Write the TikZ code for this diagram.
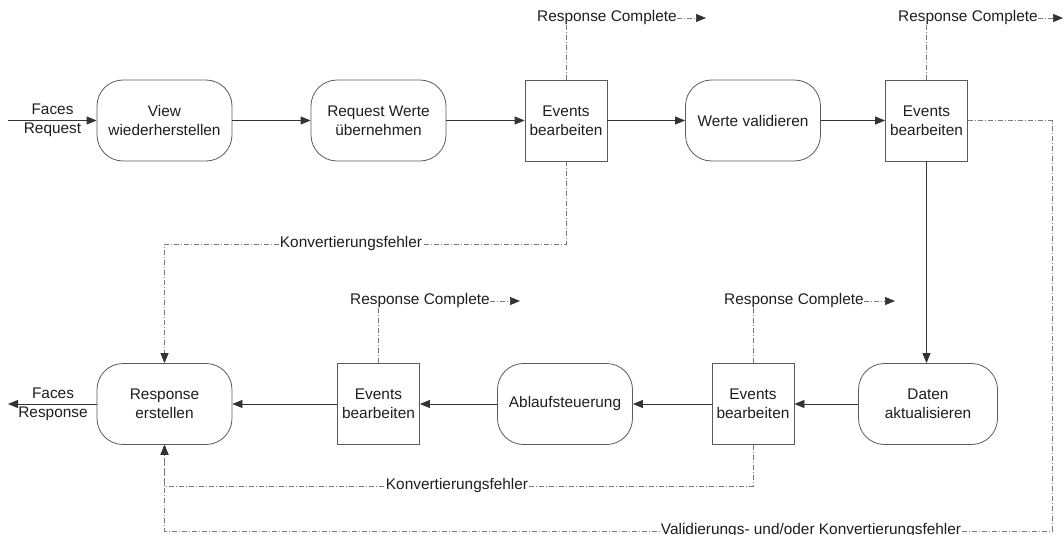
\documentclass[tikz,border=0pt]{standalone}
\usepackage{fontspec}
\setmainfont{Liberation Sans}
\usetikzlibrary{arrows.meta}
\definecolor{boxc}{HTML}{5A5A5A}
\definecolor{linec}{HTML}{333333}
\definecolor{altc}{HTML}{7A7A7A}
\definecolor{txtc}{HTML}{1E1E1E}
\begin{document}
\begin{tikzpicture}[x=1pt,y=-1pt,
  font=\fontsize{15.4}{19}\selectfont, text=txtc,
  phase/.style={draw=boxc, line width=0.8pt, rounded corners=26pt,
    minimum width=135pt, minimum height=81pt, align=center, inner sep=0pt},
  evbox/.style={draw=boxc, line width=0.8pt, minimum width=82pt,
    minimum height=81pt, align=center, inner sep=0pt},
  tip/.style={-{Triangle[length=10pt,width=8pt,color=linec]}},
  flow/.style={draw=linec, line width=0.8pt, tip},
  alt/.style={draw=altc, line width=0.7pt,
    dash pattern=on 5pt off 2pt on 1pt off 2pt},
  altarrow/.style={alt, tip},
  lbl/.style={fill=white, inner sep=1pt},
  rc/.style={anchor=west, inner sep=0pt}]
\useasboundingbox (0,0) rectangle (1063,535);

% phases, top row
\node[phase] (view) at (164.5,120.5) {View\\wiederherstellen};
\node[phase] (req)  at (378.5,120.5) {Request Werte\\übernehmen};
\node[evbox] (ev1)  at (566,120.5)   {Events\\bearbeiten};
\node[phase] (val)  at (753,120.5)   {Werte validieren};
\node[evbox] (ev2)  at (926.5,120.5) {Events\\bearbeiten};

% phases, bottom row
\node[phase, minimum width=139pt] (dat) at (928,404) {Daten\\aktualisieren};
\node[evbox] (ev4)  at (753,404)   {Events\\bearbeiten};
\node[phase] (abl)  at (565,404)   {Ablaufsteuerung};
\node[evbox] (ev3)  at (378.5,404) {Events\\bearbeiten};
\node[phase] (resp) at (164.5,404) {Response\\erstellen};

% request in, response out
\coordinate (in)  at (8,120.5);
\coordinate (out) at (8,404);
\draw[flow] (in) -- (view.west);
\node[align=center, inner sep=0pt] (fin) at (52.5,120.5) {Faces\\Request};
\draw[flow] (resp.west) -- (out);
\node[align=center, inner sep=0pt] (fout) at (53,404) {Faces\\Response};

% normal flow
\draw[flow] (view.east) -- (req.west);
\draw[flow] (req.east) -- (ev1.west);
\draw[flow] (ev1.east) -- (val.west);
\draw[flow] (val.east) -- (ev2.west);
\draw[flow] (ev2.south) -- (ev2.south |- dat.north);
\draw[flow] (dat.west) -- (ev4.east);
\draw[flow] (ev4.west) -- (abl.east);
\draw[flow] (abl.west) -- (ev3.east);
\draw[flow] (ev3.west) -- (resp.east);

% response complete exits
\node[rc] (rc1) at (537,18)  {Response Complete};
\node[rc] (rc2) at (898,18)  {Response Complete};
\node[rc] (rc3) at (350,301) {Response Complete};
\node[rc] (rc4) at (724,301) {Response Complete};
\coordinate (rc1e) at (706,18);
\coordinate (rc2e) at (1063,18);
\coordinate (rc3e) at (520,301);
\coordinate (rc4e) at (895,301);
\draw[altarrow] (rc1.east) -- (rc1e);
\draw[altarrow] (rc2.east) -- (rc2e);
\draw[altarrow] (rc3.east) -- (rc3e);
\draw[altarrow] (rc4.east) -- (rc4e);
\draw[alt] (ev1.north) -- (ev1.north |- rc1.south);
\draw[alt] (ev2.north) -- (ev2.north |- rc2.south);
\draw[alt] (ev3.north) -- (ev3.north |- rc3.south);
\draw[alt] (ev4.north) -- (ev4.north |- rc4.south);

% error paths back to rendering
\coordinate (k1) at (566,244);
\coordinate (k2) at (753,486);
\coordinate (vr) at (1052,531);
\draw[altarrow] (ev1.south) -- (k1) -| (resp.north);
\node[lbl] at (351,244) {Konvertierungsfehler};
\draw[altarrow] (ev4.south) -- (k2) -| (resp.south);
\node[lbl] at (457,486) {Konvertierungsfehler};
\draw[altarrow] (ev2.east) -| (vr) -| (resp.south);
\node[lbl] at (811,531) {Validierungs- und/oder Konvertierungsfehler};
\end{tikzpicture}
\end{document}
